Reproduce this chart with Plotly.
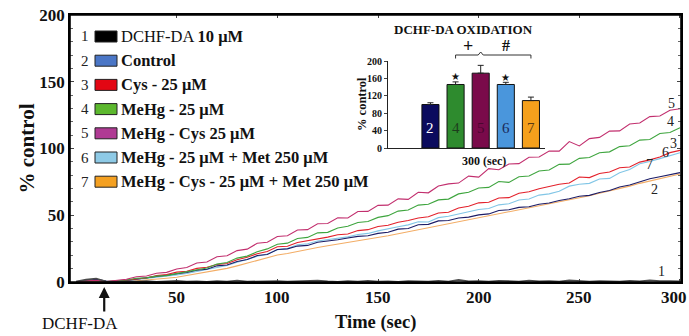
import plotly.graph_objects as go

# ---------------- data ----------------
time_s = list(range(0, 301, 5))

s1_dchf = [0.3,1.8,2.6,0.4,0.2,0.6,0.3,0.8,0.2,0.5,0.9,0.3,0.6,0.2,0.7,0.4,1.1,0.3,0.5,0.2,0.8,0.4,0.6,0.3,1.0,0.5,0.2,0.7,0.4,0.9,0.3,0.6,0.2,0.8,0.5,0.3,0.9,0.4,1.6,0.5,0.7,0.3,0.9,0.6,0.4,1.1,0.5,0.8,0.3,1.2,0.6,0.4,0.7,0.5,0.3,0.9,0.6,1.3,0.7,0.8,0.5]
s2_control = [0.2,0.9,2.1,0.8,0.5,1.2,2.2,2.9,4.3,4.9,6.4,7.1,8.8,9.6,12.1,12.7,15.4,16.9,19.8,20.6,24.3,24.8,26.9,27.4,29.8,30.5,31.6,32.9,34.2,34.6,36.4,37.3,39.6,40.1,42.9,43.2,45.8,46.1,47.9,48.6,50.3,51.0,53.6,54.1,55.9,56.4,58.3,59.2,61.1,62.4,64.2,64.9,67.1,68.5,71.2,72.6,74.8,77.3,78.9,80.4,81.9]
s3_cys = [0.1,0.5,0.9,0.2,0.6,1.3,2.3,3.0,4.8,5.6,7.4,8.1,10.2,11.0,13.1,13.8,16.7,18.5,21.2,22.9,26.4,26.8,29.6,30.9,32.3,33.6,35.4,35.9,38.5,39.2,41.6,42.5,44.8,46.1,48.0,48.9,51.7,52.3,55.4,56.8,59.3,59.7,62.9,63.2,66.5,67.6,69.8,71.4,73.2,74.1,78.6,78.2,81.3,82.4,85.6,86.1,89.8,91.5,93.7,96.9,98.6]
s4_mehg = [0.2,0.6,1.0,0.3,0.9,1.5,2.8,3.1,4.4,4.8,6.3,7.6,9.1,10.5,13.4,14.6,17.9,19.4,22.6,24.8,28.3,29.1,32.6,33.4,36.8,37.2,40.5,41.8,44.6,45.3,48.4,49.7,53.1,53.9,57.6,58.2,61.5,62.1,66.0,67.2,70.4,70.9,75.3,74.6,78.8,79.4,83.2,83.9,88.1,88.3,92.6,93.2,96.8,97.5,101.4,102.1,106.3,106.7,111.2,112.0,115.5]
s5_mehg_cys = [0.3,0.8,1.2,0.4,1.3,2.0,3.9,4.5,6.6,7.2,9.8,10.9,14.2,15.0,18.9,19.6,23.5,24.6,29.0,29.8,34.1,34.6,38.9,39.2,43.6,43.8,48.1,47.9,52.8,52.9,57.4,57.6,62.3,61.9,67.2,66.8,71.9,73.5,74.1,79.3,78.6,84.9,84.1,88.4,88.7,93.5,93.6,98.1,98.0,105.2,101.9,107.4,108.3,113.0,113.2,118.4,119.1,123.9,124.3,128.6,129.8]
s6_mehg_met = [0.3,1.2,1.8,0.5,0.4,0.9,1.7,2.6,3.8,4.1,5.3,6.4,7.6,9.3,10.8,12.4,14.9,16.8,19.3,21.0,24.2,25.1,27.9,28.6,30.7,31.8,32.9,33.8,35.6,36.4,38.3,39.6,41.4,42.8,45.1,44.9,48.2,49.3,51.2,52.6,54.3,55.1,57.8,58.6,61.4,62.2,65.1,66.0,67.9,71.8,73.2,73.9,77.1,77.6,81.8,84.3,88.6,90.2,92.4,94.7,96.8]
s7_mehg_cys_met = [0.1,0.3,0.6,0.2,0.1,0.4,0.9,1.4,2.1,2.8,3.6,4.9,6.1,7.5,8.7,10.2,12.1,14.0,16.2,18.1,20.2,21.3,22.9,24.4,25.8,27.1,28.3,29.6,30.9,32.1,33.2,34.6,36.1,37.6,39.2,40.5,42.1,43.4,45.0,46.6,48.1,49.4,51.0,52.3,53.9,55.4,56.8,58.3,59.9,61.4,63.1,64.6,66.5,68.2,70.1,71.8,73.9,75.6,77.5,79.2,80.9]

x_tick_values = [50, 100, 150, 200, 250, 300]
y_tick_values = [0, 50, 100, 150, 200]

series_numbers = ["1", "2", "3", "4", "5", "6", "7"]
series_names = ["DCHF-DA <b>10 μM</b>", "<b>Control</b>", "<b>Cys - 25 μM</b>", "<b>MeHg - 25 μM</b>",
                "<b>MeHg - Cys 25 μM</b>", "<b>MeHg - 25 μM + Met 250 μM</b>",
                "<b>MeHg - Cys - 25 μM + Met 250 μM</b>"]
series_values = [s1_dchf, s2_control, s3_cys, s4_mehg, s5_mehg_cys, s6_mehg_met, s7_mehg_cys_met]
line_colors = ["#4a4a4a", "#1c1c66", "#e3212b", "#3ea53e", "#c22f6e", "#82c6e6", "#f3ad66"]
swatch_colors = ["#000000", "#4a76c6", "#e30613", "#5cb82e", "#b03a94", "#8ecae6", "#f4a021"]
end_label_x = [291, 287.5, 297, 295.5, 296, 293, 285]
end_label_y = [7.5, 69, 104, 120, 134, 97, 88]

# inset bar chart (300 s)
bar_labels = ["2", "4", "5", "6", "7"]
bar_values = [100, 146, 172, 146, 109]
bar_errors = [4, 6, 18, 5, 8]
bar_colors = ["#0b0b5e", "#2e8b2e", "#7a0a4a", "#4a96dc", "#f5a01c"]
bar_text_colors = ["#ffffff", "#1d3d1d", "#4a0630", "#1a2a5a", "#5a3a10"]
bar_star = ["", "★", "★", "★", ""]

SERIF = "Liberation Serif"

fig = go.Figure()

# main lines
draw_order = [6, 5, 1, 2, 3, 4, 0]
for i in draw_order:
    fig.add_trace(go.Scatter(x=time_s, y=series_values[i], mode="lines",
                             line=dict(color=line_colors[i], width=1.6 if i == 0 else 1.1),
                             showlegend=False, hoverinfo="skip"))

# inset bars
bar_pos = list(range(len(bar_labels)))
fig.add_trace(go.Bar(x=bar_pos, y=bar_values, xaxis="x2", yaxis="y2", width=0.68,
                     marker=dict(color=bar_colors, line=dict(color="#111111", width=1)),
                     error_y=dict(type="data", array=bar_errors, symmetric=False,
                                  arrayminus=[0] * len(bar_errors),
                                  color="#222222", thickness=1, width=3),
                     showlegend=False, hoverinfo="skip"))

annotations = []
shapes = []

# end-of-line labels
for i in range(7):
    annotations.append(dict(x=end_label_x[i], y=end_label_y[i], xref="x", yref="y",
                            text=series_numbers[i], showarrow=False,
                            xanchor="center", yanchor="middle",
                            font=dict(family=SERIF, size=14, color="#222222")))

L, R, T, B = 70, 681, 15, 282
W, H = R - L, B - T
def px(xp):
    return (xp - L) / W
def py(yp):
    return (B - yp) / H

# plot frame
shapes.append(dict(type="rect", xref="paper", yref="paper", x0=0, x1=1, y0=0, y1=1,
                   line=dict(color="#000000", width=1.6), layer="above"))

# x tick labels (last one nudged left to stay inside the page, as in the original)
for v in x_tick_values:
    shift = -6 if v == x_tick_values[-1] else 0
    annotations.append(dict(x=v, y=py(297), xref="x", yref="paper", text=f"<b>{v}</b>",
                            showarrow=False, xanchor="center", yanchor="middle", xshift=shift,
                            font=dict(family=SERIF, size=17, color="#111111")))

# custom legend
for i in range(7):
    yc = 36.5 + 24.2 * i
    annotations.append(dict(x=px(85), y=py(yc), xref="paper", yref="paper",
                            text=series_numbers[i], showarrow=False,
                            xanchor="center", yanchor="middle",
                            font=dict(family=SERIF, size=15, color="#222222")))
    shapes.append(dict(type="rect", xref="paper", yref="paper",
                       x0=px(95), x1=px(117), y0=py(yc + 5.5), y1=py(yc - 5.5),
                       fillcolor=swatch_colors[i], line=dict(color="#222222", width=1)))
    annotations.append(dict(x=px(119), y=py(yc), xref="paper", yref="paper",
                            text=series_names[i], showarrow=False,
                            xanchor="left", yanchor="middle",
                            font=dict(family=SERIF, size=16.5, color="#111111")))

# inset text
annotations.append(dict(x=px(463), y=py(29), xref="paper", yref="paper",
                        text="<b>DCHF-DA OXIDATION</b>", showarrow=False,
                        xanchor="center", yanchor="middle",
                        font=dict(family=SERIF, size=13, color="#111111")))
annotations.append(dict(x=px(484), y=py(161), xref="paper", yref="paper",
                        text="<b>300 (sec)</b>", showarrow=False,
                        xanchor="center", yanchor="middle",
                        font=dict(family=SERIF, size=12, color="#111111")))
annotations.append(dict(x=px(362), y=py(104), xref="paper", yref="paper",
                        text="<b>% control</b>", showarrow=False, textangle=-90,
                        xanchor="center", yanchor="middle",
                        font=dict(family=SERIF, size=12.5, color="#111111")))
for j in range(len(bar_labels)):
    annotations.append(dict(x=bar_pos[j], y=46, xref="x2", yref="y2", text=bar_labels[j],
                            showarrow=False, xanchor="center", yanchor="middle",
                            font=dict(family=SERIF, size=15, color=bar_text_colors[j])))
    if bar_star[j]:
        annotations.append(dict(x=bar_pos[j], y=bar_values[j] + bar_errors[j] + 12,
                                xref="x2", yref="y2", text=bar_star[j], showarrow=False,
                                xanchor="center", yanchor="middle",
                                font=dict(family="DejaVu Sans", size=10, color="#111111")))

# significance brackets (x in inset units, y in paper)
yb, ytk, ypk = py(55), py(58.5), py(52)
shapes.append(dict(type="path", xref="x2", yref="paper",
                   path=f"M {bar_pos[1]},{ytk} L {bar_pos[1]},{yb} L {bar_pos[2]-0.1},{yb} L {bar_pos[2]},{ypk} "
                        f"L {bar_pos[2]+0.1},{yb} L {bar_pos[4]},{yb} L {bar_pos[4]},{ytk}",
                   line=dict(color="#333333", width=1)))
annotations.append(dict(x=(bar_pos[1] + bar_pos[2]) / 2, y=py(46), xref="x2", yref="paper",
                        text="<b>+</b>", showarrow=False, xanchor="center", yanchor="middle",
                        font=dict(family=SERIF, size=18, color="#111111")))
annotations.append(dict(x=(bar_pos[2] + bar_pos[4]) / 2, y=py(46), xref="x2", yref="paper",
                        text="<b>#</b>", showarrow=False, xanchor="center", yanchor="middle",
                        font=dict(family=SERIF, size=16, color="#111111")))

# axis titles and arrow
annotations.append(dict(x=0.5, y=py(322), xref="paper", yref="paper",
                        text="<b>Time (sec)</b>", showarrow=False,
                        xanchor="center", yanchor="middle",
                        font=dict(family=SERIF, size=18.5, color="#111111")))
annotations.append(dict(x=px(26), y=0.5, xref="paper", yref="paper",
                        text="<b>% control</b>", showarrow=False, textangle=-90,
                        xanchor="center", yanchor="middle",
                        font=dict(family=SERIF, size=21, color="#111111")))
annotations.append(dict(x=14, y=py(287), xref="x", yref="paper", text="",
                        showarrow=True, ax=0, ay=26, arrowhead=2, arrowsize=1,
                        arrowwidth=2.2, arrowcolor="#111111"))
annotations.append(dict(x=px(80), y=py(323), xref="paper", yref="paper",
                        text="DCHF-DA", showarrow=False,
                        xanchor="center", yanchor="middle",
                        font=dict(family=SERIF, size=17, color="#111111")))

fig.update_layout(
    width=689, height=336,
    margin=dict(l=L, r=689 - R, t=T, b=336 - B, autoexpand=False),
    paper_bgcolor="white", plot_bgcolor="white",
    font=dict(family=SERIF, color="#111111"),
    showlegend=False,
    xaxis=dict(range=[-3, 300.5], tickvals=x_tick_values, showticklabels=False,
               showgrid=False, zeroline=False, showline=True, linecolor="#000000",
               linewidth=1.5, mirror="allticks", ticks="inside", ticklen=3,
               tickcolor="#444444"),
    yaxis=dict(range=[0, 200], tickvals=y_tick_values,
               showgrid=False, zeroline=False, showline=True, linecolor="#000000",
               linewidth=1.5, mirror="allticks", ticks="inside", ticklen=4,
               tickcolor="#444444",
               tickfont=dict(family=SERIF, size=17, color="#111111", weight="bold"),
               minor=dict(dtick=10, ticks="inside", ticklen=3, tickcolor="#666666")),
    xaxis2=dict(domain=[px(388), px(545)], anchor="y2", range=[-1.69, 4.56],
                showticklabels=False, ticks="", showgrid=False, zeroline=False,
                showline=True, linecolor="#222222", linewidth=1.2),
    yaxis2=dict(domain=[py(148), py(61)], anchor="x2", range=[0, 200],
                tickvals=[0, 40, 80, 120, 160, 200], showgrid=False, zeroline=False,
                showline=True, linecolor="#222222", linewidth=1.2, ticks="outside",
                ticklen=3,
                tickfont=dict(family=SERIF, size=10, color="#111111", weight="bold")),
    annotations=annotations,
    shapes=shapes,
)

fig.write_html("out.html", config={"displayModeBar": False},
               post_script="document.body.style.margin='0';document.body.style.padding='0';")
